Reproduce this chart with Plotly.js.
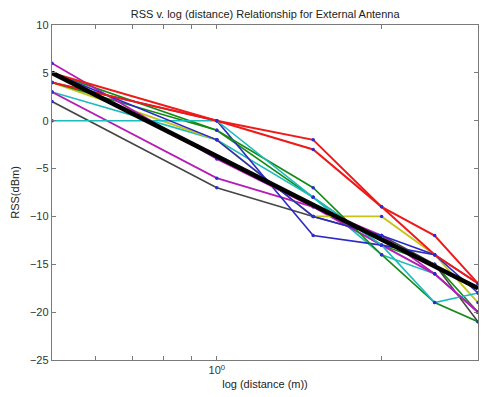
<!DOCTYPE html>
<html>
<head>
<meta charset="utf-8">
<script src="https://cdn.plot.ly/plotly-3.0.1.min.js"></script>
<style>html,body{margin:0;padding:0;background:#fff;}#chart{width:491px;height:397px;}</style>
</head>
<body>
<div id="chart"></div>
<script>
// distances (m)
const distances = [0.5, 1, 1.5, 2, 2.5, 3];
// measured RSS (dBm) per run
const rssBlueA    = [5, -2, -10, -12, -14, -17];
const rssGreenA   = [4, -1, -7, -14, -19, -21];
const rssRedA     = [5, 0, -2, -9, -12, -17];
const rssCyanA    = [0, 0, -8, -13, -19, -18];
const rssMagentaA = [6, -4, -9, -12, -16, -20];
const rssYellow   = [4, -2, -10, -10, -14, -19];
const rssGray     = [2, -7, -10, -12, -15, -21];
const rssRedB     = [4, 0, -3, -9, -14, -17];
const rssBlueB    = [4, 0, -12, -13, -14, -18];
const rssCyanB    = [3, -2, -8, -14, -16, -20];
const rssMagentaB = [3, -6, -9, -13, -16, -20];
const rssGreenB   = [5, -1, -8, -13, -15, -20];
// least-squares fit line endpoints
const fitDist = [0.5, 3];
const fitRss  = [5, -17.5];
// x tick positions
const majorTicks = [1];
const majorTickText = ['10<sup>0</sup>'];
const minorTicks = [0.6, 0.7, 0.8, 0.9, 2];

const series = [
  {y: rssGreenB,   c: '#158a15', w: 1.6},
  {y: rssGray,     c: '#454545', w: 1.6},
  {y: rssCyanB,    c: '#1cbcbc', w: 1.6},
  {y: rssMagentaB, c: '#b51cb5', w: 1.8},
  {y: rssYellow,   c: '#c4c41c', w: 1.8},
  {y: rssBlueB,    c: '#2b2bc4', w: 1.6},
  {y: rssGreenA,   c: '#158a15', w: 1.6},
  {y: rssCyanA,    c: '#1cbcbc', w: 1.6},
  {y: rssMagentaA, c: '#b51cb5', w: 1.8},
  {y: rssBlueA,    c: '#2b2bc4', w: 1.6},
  {y: rssRedB,     c: '#ee1a1a', w: 2},
  {y: rssRedA,     c: '#ee1a1a', w: 2}
];

const traces = series.map(s => ({
  x: distances, y: s.y, type: 'scatter', mode: 'lines+markers',
  line: {color: s.c, width: s.w},
  marker: {color: '#2b2bd0', size: 3.5},
  showlegend: false, hoverinfo: 'skip'
}));
traces.push({
  x: fitDist, y: fitRss, type: 'scatter', mode: 'lines',
  line: {color: '#000000', width: 4.5}, showlegend: false, hoverinfo: 'skip'
});

const fontFam = 'Liberation Sans, Arial, sans-serif';
const axisCommon = {
  showline: true, linecolor: '#7a7a7a', linewidth: 1.2, mirror: 'ticks',
  ticks: 'inside', ticklen: 4, tickcolor: '#7a7a7a', tickwidth: 1,
  showgrid: false, zeroline: false,
  tickfont: {family: fontFam, size: 11, color: '#333'}
};

const layout = {
  width: 491, height: 397,
  margin: {l: 52, r: 13, t: 25, b: 37},
  paper_bgcolor: '#ffffff', plot_bgcolor: '#ffffff',
  title: {text: 'RSS v. log (distance) Relationship for External Antenna',
          font: {family: fontFam, size: 11, color: '#222'},
          x: 0.54, xanchor: 'center', y: 0.965, yanchor: 'middle'},
  xaxis: Object.assign({}, axisCommon, {
    type: 'log', range: [Math.log10(0.5), Math.log10(3)],
    tickmode: 'array', tickvals: majorTicks, ticktext: majorTickText,
    minor: {tickmode: 'array', tickvals: minorTicks, ticks: 'inside', ticklen: 4,
            tickcolor: '#7a7a7a', tickwidth: 1, showgrid: false},
    title: {text: 'log (distance (m))', standoff: 4,
            font: {family: fontFam, size: 11, color: '#222'}}
  }),
  yaxis: Object.assign({}, axisCommon, {
    range: [-25, 10], tickmode: 'array', tickvals: [-25, -20, -15, -10, -5, 0, 5, 10],
    title: {text: 'RSS(dBm)', standoff: 8,
            font: {family: fontFam, size: 11, color: '#222'}}
  })
};

Plotly.newPlot('chart', traces, layout, {displayModeBar: false, staticPlot: true});
</script>
</body>
</html>
